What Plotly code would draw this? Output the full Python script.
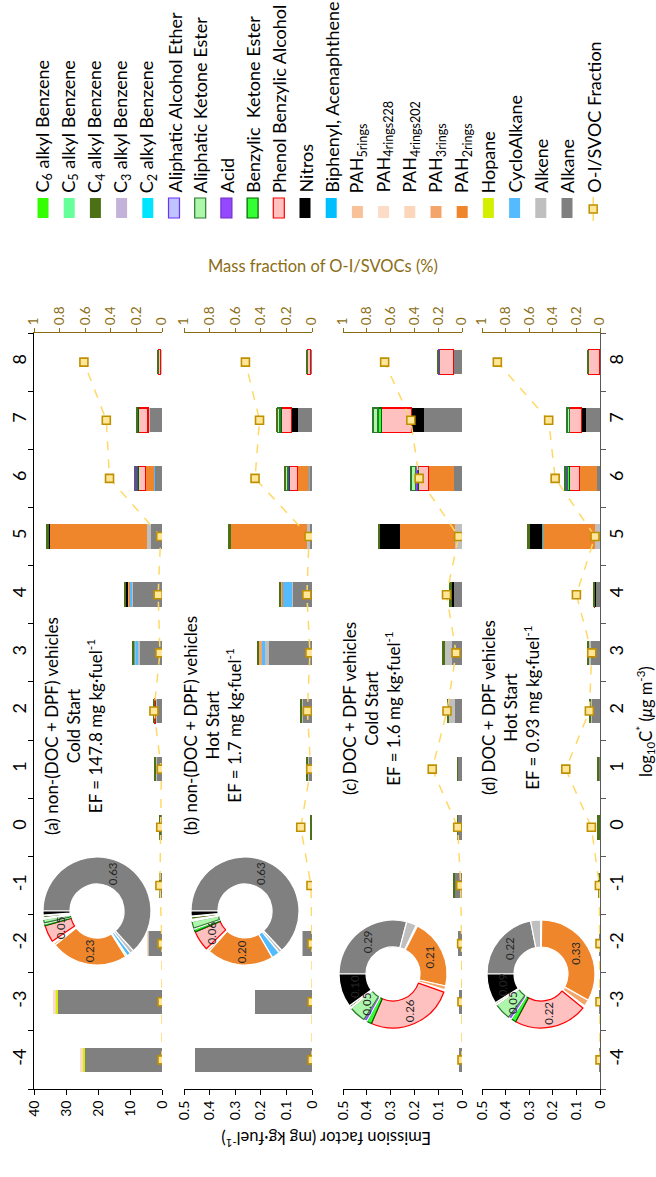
import math
import plotly.graph_objects as go

W, H = 656, 1177

# ---------------- data ----------------
LOGC = [-4, -3, -2, -1, 0, 1, 2, 3, 4, 5, 6, 7, 8]

# Panel (a) non-(DOC+DPF), cold start  (mg kg-fuel-1), order -4 ... 8
A_ALKANE = [24.2, 32.5, 4.2, 0.5, 0.5, 1.6, 1.8, 7.0, 9.1, 3.4, 2.3, 4.0, 0.3]
A_ALKENE = [0, 0, 0.2, 0, 0, 0.2, 0.2, 0.4, 0.4, 1.2, 0.1, 0.2, 0.1]
A_CYCLO = [0, 0, 0, 0, 0, 0, 0, 0.9, 0.6, 0, 0.1, 0, 0]
A_HOPANE = [0.5, 0.7, 0, 0, 0, 0, 0, 0, 0, 0, 0, 0, 0]
A_PAH2 = [0, 0, 0, 0, 0, 0, 0, 0, 0.3, 30.7, 2.6, 0, 0]
A_PAH3 = [0, 0, 0, 0, 0, 0, 0.1, 0.3, 0.4, 0, 0.1, 0, 0]
A_PAH4B = [0.4, 0.3, 0.1, 0, 0, 0, 0, 0, 0, 0, 0, 0, 0]
A_PAH4A = [0.3, 0.3, 0, 0, 0, 0, 0, 0, 0, 0, 0, 0, 0]
A_BIPH = [0, 0, 0, 0, 0, 0, 0, 0.2, 0, 0, 0, 0, 0]
A_NITROS = [0, 0, 0, 0, 0, 0, 0, 0, 0.5, 0.3, 0, 0.2, 0]
A_PHENOL = [0, 0, 0, 0, 0, 0, 0.2, 0, 0, 0, 2.1, 3.0, 0.6]
A_BKE = [0, 0, 0, 0, 0, 0, 0, 0, 0, 0, 0.4, 0.2, 0]
A_ACID = [0, 0, 0, 0, 0, 0, 0, 0, 0, 0, 0.2, 0, 0]
A_AKE = [0, 0, 0, 0, 0, 0, 0, 0, 0, 0, 0.4, 0.4, 0]
A_AAE = [0, 0, 0, 0, 0, 0, 0, 0, 0, 0, 0.2, 0, 0]
A_C4 = [0, 0, 0, 0.4, 0.4, 0.8, 0.5, 0.3, 0.4, 0.6, 0.2, 0.1, 0.3]

# Panel (b) non-(DOC+DPF), hot start
B_ALKANE = [0.459, 0.221, 0.037, 0, 0.002, 0.014, 0.038, 0.168, 0.075, 0.006, 0.009, 0.053, 0.005]
B_ALKENE = [0, 0, 0.002, 0, 0, 0.002, 0.002, 0.015, 0.005, 0.012, 0.001, 0, 0.001]
B_CYCLO = [0, 0, 0, 0, 0, 0, 0, 0.013, 0.034, 0, 0.002, 0, 0]
B_PAH2 = [0, 0, 0, 0, 0, 0, 0, 0, 0.004, 0.300, 0.046, 0, 0]
B_PAH3 = [0, 0, 0, 0, 0, 0, 0, 0.012, 0.003, 0, 0, 0, 0]
B_NITROS = [0, 0, 0, 0, 0, 0, 0, 0, 0, 0, 0, 0.026, 0]
B_PHENOL = [0, 0, 0, 0, 0, 0, 0, 0, 0, 0, 0.030, 0.042, 0.012]
B_BKE = [0, 0, 0, 0, 0, 0, 0, 0, 0, 0, 0.006, 0.004, 0]
B_ACID = [0, 0, 0, 0, 0, 0, 0, 0, 0, 0, 0.003, 0, 0]
B_AKE = [0, 0, 0, 0, 0, 0, 0, 0, 0, 0, 0.005, 0.010, 0]
B_AAE = [0, 0, 0, 0, 0, 0, 0, 0, 0, 0, 0.003, 0, 0]
B_C4 = [0, 0, 0, 0, 0.006, 0.004, 0.007, 0.004, 0.008, 0.011, 0.002, 0.002, 0.005]

# Panel (c) DOC+DPF, cold start
C_ALKANE = [0.012, 0.012, 0.015, 0.030, 0.018, 0.018, 0.028, 0.042, 0.035, 0, 0.035, 0.161, 0.035]
C_ALKENE = [0, 0, 0, 0, 0, 0, 0.028, 0.032, 0, 0.028, 0, 0, 0]
C_PAH2 = [0, 0, 0, 0, 0, 0, 0, 0, 0, 0.231, 0.105, 0, 0]
C_NITROS = [0, 0, 0, 0, 0, 0, 0, 0, 0.011, 0.084, 0, 0.052, 0]
C_PHENOL = [0, 0, 0, 0, 0, 0, 0, 0, 0, 0, 0.042, 0.126, 0.059]
C_BKE = [0, 0, 0, 0, 0, 0, 0, 0, 0, 0, 0.004, 0.014, 0]
C_ACID = [0, 0, 0, 0, 0, 0, 0, 0, 0, 0, 0.010, 0, 0.005]
C_AKE = [0, 0, 0, 0, 0, 0, 0, 0, 0, 0, 0.018, 0.021, 0]
C_C4 = [0, 0, 0, 0.005, 0.003, 0.003, 0.006, 0.008, 0.008, 0.010, 0, 0, 0.006]

# Panel (d) DOC+DPF, hot start
D_ALKANE = [0.003, 0.003, 0.003, 0.003, 0.003, 0.008, 0.036, 0.042, 0.018, 0, 0.011, 0.059, 0]
D_ALKENE = [0, 0, 0, 0, 0, 0, 0.003, 0.008, 0, 0.021, 0, 0, 0]
D_PAH2 = [0, 0, 0, 0, 0, 0, 0, 0, 0, 0.222, 0.076, 0, 0]
D_BIPH = [0, 0, 0, 0, 0, 0, 0, 0, 0, 0.003, 0, 0, 0]
D_NITROS = [0, 0, 0, 0, 0, 0, 0, 0, 0.004, 0.049, 0, 0.018, 0]
D_PHENOL = [0, 0, 0, 0, 0, 0, 0, 0, 0.003, 0, 0.042, 0.052, 0.049]
D_BKE = [0, 0, 0, 0, 0, 0, 0, 0, 0, 0, 0.010, 0, 0]
D_ACID = [0, 0, 0, 0, 0, 0, 0, 0, 0, 0, 0.005, 0, 0]
D_AKE = [0, 0, 0, 0, 0, 0, 0, 0, 0, 0, 0.008, 0.011, 0]
D_C4 = [0, 0, 0, 0.002, 0.008, 0.006, 0.007, 0.006, 0.005, 0.014, 0, 0, 0.007]

# O-I/SVOC mass fraction (secondary axis)
FRAC_A = [0, 0, 0, 0.016, 0.01, 0.005, 0.063, 0.016, 0.03, 0.01, 0.41, 0.435, 0.61]
FRAC_B = [0, 0, 0, 0.008, 0.088, 0.01, 0.036, 0.016, 0.04, 0.023, 0.445, 0.41, 0.52]
FRAC_C = [0, 0, 0.003, 0.011, 0.036, 0.25, 0.126, 0.05, 0.13, 0.028, 0.36, 0.43, 0.65]
FRAC_D = [0, 0, 0, 0.005, 0.073, 0.29, 0.09, 0.07, 0.2, 0.042, 0.38, 0.435, 0.87]

# Donut compositions (order of PIE_ORDER)
PIE_ORDER = ["alkane", "alkene", "cyclo", "hopane", "pah2", "pah3", "pah4b", "pah4a", "pah5",
             "biph", "phenol", "bke", "acid", "ake", "aae", "c2", "c3", "c4", "c5", "c6", "nitros"]
PIE_A = [0.63, 0.012, 0.012, 0.005, 0.23, 0.006, 0.002, 0.002, 0.002, 0.002, 0.05,
         0.006, 0.003, 0.01, 0.003, 0.001, 0.001, 0.006, 0.001, 0.001, 0.012]
PIE_B = [0.63, 0.01, 0.025, 0.0, 0.20, 0.006, 0.001, 0.001, 0.001, 0.002, 0.06,
         0.008, 0.004, 0.02, 0.004, 0.001, 0.001, 0.008, 0.001, 0.001, 0.015]
PIE_C = [0.29, 0.03, 0.004, 0.0, 0.21, 0.012, 0.002, 0.001, 0.001, 0.003, 0.26,
         0.015, 0.01, 0.05, 0.003, 0.0, 0.0, 0.006, 0.0, 0.0, 0.10]
PIE_D = [0.22, 0.03, 0.003, 0.0, 0.33, 0.02, 0.002, 0.001, 0.001, 0.004, 0.22,
         0.015, 0.01, 0.05, 0.003, 0.0, 0.0, 0.005, 0.0, 0.0, 0.09]

PANEL_TITLES = [
    "(a) non-(DOC + DPF) vehicles<br>Cold Start<br>EF = 147.8 mg kg·fuel<sup>-1</sup>",
    "(b) non-(DOC + DPF) vehicles<br>Hot Start<br>EF = 1.7 mg kg·fuel<sup>-1</sup>",
    "(c) DOC + DPF vehicles<br>Cold Start<br>EF = 1.6 mg kg·fuel<sup>-1</sup>",
    "(d) DOC + DPF vehicles<br>Hot Start<br>EF = 0.93 mg kg·fuel<sup>-1</sup>",
]

KEYS = ["c6", "c5", "c4", "c3", "c2", "aae", "ake", "acid", "bke", "phenol", "nitros", "biph",
        "pah5", "pah4a", "pah4b", "pah3", "pah2", "hopane", "cyclo", "alkene", "alkane"]
NAMES = ["C<sub>6</sub> alkyl Benzene", "C<sub>5</sub> alkyl Benzene", "C<sub>4</sub> alkyl Benzene",
         "C<sub>3</sub> alkyl Benzene", "C<sub>2</sub> alkyl Benzene", "Aliphatic Alcohol Ether",
         "Aliphatic Ketone Ester", "Acid", "Benzylic  Ketone Ester", "Phenol Benzylic Alcohol",
         "Nitros", "Biphenyl, Acenaphthene", "PAH<sub>5rings</sub>", "PAH<sub>4rings228</sub>",
         "PAH<sub>4rings202</sub>", "PAH<sub>3rings</sub>", "PAH<sub>2rings</sub>", "Hopane",
         "CycloAlkane", "Alkene", "Alkane"]

# ---------------- styles ----------------
COLOR = {"c6": "#33FF00", "c5": "#66FF99", "c4": "#4B7016", "c3": "#C3B3D9", "c2": "#00E5FF",
         "aae": "#BDC4FF", "ake": "#ADF7AD", "acid": "#9448FF", "bke": "#33FF33", "phenol": "#FFC0C0",
         "nitros": "#000000", "biph": "#00BFFF", "pah5": "#F8C197", "pah4a": "#FCDCC6",
         "pah4b": "#FBD6BA", "pah3": "#F4A66A", "pah2": "#F0862C", "hopane": "#D4F000",
         "cyclo": "#55BBFF", "alkene": "#BFBFBF", "alkane": "#808080"}
BORDER = {"aae": "#7030FF", "ake": "#2D7A2D", "acid": "#7030D0", "bke": "#006400", "phenol": "#FF0000"}
GOLD = "#8B6D14"
FONT = "Lato, Carlito, Calibri, sans-serif"

PANEL_A = {"alkane": A_ALKANE, "alkene": A_ALKENE, "cyclo": A_CYCLO, "hopane": A_HOPANE,
           "pah2": A_PAH2, "pah3": A_PAH3, "pah4b": A_PAH4B, "pah4a": A_PAH4A, "biph": A_BIPH,
           "nitros": A_NITROS, "phenol": A_PHENOL, "bke": A_BKE, "acid": A_ACID, "ake": A_AKE,
           "aae": A_AAE, "c4": A_C4}
PANEL_B = {"alkane": B_ALKANE, "alkene": B_ALKENE, "cyclo": B_CYCLO, "pah2": B_PAH2,
           "pah3": B_PAH3, "nitros": B_NITROS, "phenol": B_PHENOL, "bke": B_BKE, "acid": B_ACID,
           "ake": B_AKE, "aae": B_AAE, "c4": B_C4}
PANEL_C = {"alkane": C_ALKANE, "alkene": C_ALKENE, "pah2": C_PAH2, "nitros": C_NITROS,
           "phenol": C_PHENOL, "bke": C_BKE, "acid": C_ACID, "ake": C_AKE, "c4": C_C4}
PANEL_D = {"alkane": D_ALKANE, "alkene": D_ALKENE, "pah2": D_PAH2, "biph": D_BIPH,
           "nitros": D_NITROS, "phenol": D_PHENOL, "bke": D_BKE, "acid": D_ACID, "ake": D_AKE,
           "c4": D_C4}

PANELS = [PANEL_A, PANEL_B, PANEL_C, PANEL_D]
FRACS = [FRAC_A, FRAC_B, FRAC_C, FRAC_D]
PIES = [PIE_A, PIE_B, PIE_C, PIE_D]
EF_MAX = [40, 0.5, 0.5, 0.5]

# layout geometry (pixels)
PANEL_X = [(34, 162), (184, 312), (343, 462), (482, 600)]
PLOT_TOP, PLOT_BOT = 333, 1089
PIE_CENTERS = [(97, 911), (245, 911), (393, 974), (541, 974)]
PIE_R = 54
HOLE = 0.5
TITLE_POS = [(73, 726), (212, 726), (371, 709), (510, 708)]


def px(x):
    return x / W


def py(y):
    return 1 - y / H


def ann(x, y, text, size, color="black", angle=-90, **kw):
    d = dict(x=px(x), y=py(y), xref="paper", yref="paper", text=text, showarrow=False,
             textangle=angle, xanchor="center", yanchor="middle",
             font=dict(size=size, color=color, family=FONT))
    d.update(kw)
    return d


fig = go.Figure()

for i, (panel, frac) in enumerate(zip(PANELS, FRACS)):
    xa = "x" if i == 0 else f"x{i + 1}"
    ya = "y" if i == 0 else f"y{i + 1}"
    xs = f"x{i + 5}"
    for key in reversed(KEYS):
        if key not in panel:
            continue
        vals = [v if v else None for v in panel[key]]
        fig.add_trace(go.Bar(
            x=vals, y=LOGC, orientation="h", width=0.42,
            marker=dict(color=COLOR[key],
                        line=dict(color=BORDER.get(key, COLOR[key]),
                                  width=1.2 if key in BORDER else 0)),
            xaxis=xa, yaxis=ya, showlegend=False, hoverinfo="skip"))
    fig.add_trace(go.Scatter(
        x=frac, y=LOGC, mode="lines+markers",
        line=dict(color="#FFD966", width=1.5, dash="dash"),
        marker=dict(symbol="square", size=8, color="#FFE699",
                    line=dict(color="#BF9000", width=1.6)),
        xaxis=xs, yaxis=ya, showlegend=False, hoverinfo="skip"))

# donuts
annotations = []
for i, vals in enumerate(PIES):
    cx, cy = PIE_CENTERS[i]
    fig.add_trace(go.Pie(
        values=vals, labels=PIE_ORDER, sort=False, direction="clockwise", rotation=270,
        hole=HOLE, textinfo="none", hoverinfo="skip", showlegend=False,
        marker=dict(colors=[COLOR[k] for k in PIE_ORDER],
                    line=dict(color=[BORDER.get(k, "#FFFFFF") if k in ("phenol", "ake", "bke")
                                     else "#FFFFFF" for k in PIE_ORDER], width=1.2)),
        domain=dict(x=[px(cx - PIE_R), px(cx + PIE_R)], y=[py(cy + PIE_R), py(cy - PIE_R)])))
    total = sum(vals)
    cum = 0.0
    rmid = PIE_R * (1 + HOLE) / 2
    for v in vals:
        if v / total >= 0.045:
            th = math.radians(270 + 360 * (cum + v / 2) / total)
            annotations.append(ann(cx + rmid * math.sin(th), cy - rmid * math.cos(th),
                                   f"{v:.2f}", 11.5, color="#262626"))
        cum += v

# axes
layout_axes = {}
for i in range(4):
    n = "" if i == 0 else str(i + 1)
    x0, x1 = PANEL_X[i]
    emax = EF_MAX[i]
    if i == 0:
        tv = [0, 10, 20, 30, 40]
        tt = ["0", "10", "20", "30", "40"]
    else:
        tv = [0, 0.1, 0.2, 0.3, 0.4, 0.5]
        tt = ["0", "0.1", "0.2", "0.3", "0.4", "0.5"]
    layout_axes[f"xaxis{n}"] = dict(
        domain=[px(x0), px(x1)], range=[emax, 0], anchor=f"y{n}", side="bottom",
        showline=True, linecolor="black", linewidth=1, ticks="outside", ticklen=5,
        tickcolor="black", tickvals=tv, ticktext=tt, tickangle=-90, showgrid=False,
        zeroline=False, automargin=False, fixedrange=True,
        tickfont=dict(size=14, color="black", family=FONT))
    layout_axes[f"xaxis{i + 5}"] = dict(
        overlaying=f"x{n}", anchor=f"y{n}", side="top", range=[1, 0],
        showline=True, linecolor=GOLD, linewidth=1, ticks="outside", ticklen=4,
        tickcolor=GOLD, tickvals=[0, 0.2, 0.4, 0.6, 0.8, 1],
        ticktext=["0", "0.2", "0.4", "0.6", "0.8", "1"], tickangle=-90, showgrid=False,
        zeroline=False, automargin=False,
        tickfont=dict(size=13.5, color=GOLD, family=FONT))
    yax = dict(domain=[py(PLOT_BOT), py(PLOT_TOP)], range=[-4.5, 8.5], anchor=f"x{n}",
               showgrid=False, zeroline=False, automargin=False)
    if i == 0 or i == 3:
        lc = "black" if i == 0 else "#595959"
        yax.update(side="left" if i == 0 else "right", showline=True, linecolor=lc,
                   linewidth=1.3, tickvals=LOGC, ticktext=[str(v) for v in LOGC],
                   ticks="", tickangle=-90,
                   tickfont=dict(size=18, color="black", family=FONT),
                   minor=dict(ticks="outside", ticklen=5, tickcolor=lc, tickwidth=1,
                              tickmode="array", tickvals=[v - 0.5 for v in LOGC] + [8.5]))
    else:
        yax.update(showline=False, showticklabels=False, ticks="")
    layout_axes[f"yaxis{n}"] = yax

# manual legend
shapes = []
for j, (key, name) in enumerate(zip(KEYS, NAMES)):
    cx = 43 + j * 26.2
    top = 206 if key.startswith("pah") else 198
    shapes.append(dict(type="rect", xref="paper", yref="paper",
                       x0=px(cx - 5.5), x1=px(cx + 5.5), y0=py(218), y1=py(top),
                       fillcolor=COLOR[key],
                       line=dict(color=BORDER.get(key, COLOR[key]), width=1.2 if key in BORDER else 0)))
    annotations.append(ann(cx, 195, name, 18, yanchor="bottom"))
cx = 43 + 21 * 26.2
shapes.append(dict(type="line", xref="paper", yref="paper", x0=px(cx), x1=px(cx),
                   y0=py(221), y1=py(197), line=dict(color="#FFD966", width=1.5)))
shapes.append(dict(type="rect", xref="paper", yref="paper", x0=px(cx - 4), x1=px(cx + 4),
                   y0=py(213), y1=py(205), fillcolor="#FFE699", line=dict(color="#BF9000", width=1.5)))
annotations.append(ann(cx, 195, "O-I/SVOC Fraction", 18, yanchor="bottom"))

# panel titles
for (tx, ty), txt in zip(TITLE_POS, PANEL_TITLES):
    annotations.append(ann(tx, ty, txt, 17, align="center"))

# axis titles
annotations.append(ann(323, 266, "Mass fraction of O-I/SVOCs (%)", 16.5, color=GOLD, angle=0))
annotations.append(ann(326, 1139, "Emission factor (mg kg·fuel<sup>-1</sup>)", 16.5, angle=180))
annotations.append(ann(646, 722, "log<sub>10</sub>C<sup>*</sup> (<i>μ</i>g m<sup>-3</sup>)", 16.5))

fig.update_layout(
    width=W, height=H, autosize=False,
    margin=dict(l=0, r=0, t=0, b=0, pad=0),
    paper_bgcolor="white", plot_bgcolor="rgba(0,0,0,0)",
    barmode="stack", showlegend=False,
    font=dict(family=FONT, color="black"),
    shapes=shapes, annotations=annotations,
    **layout_axes)

fig.write_html("out.html")
